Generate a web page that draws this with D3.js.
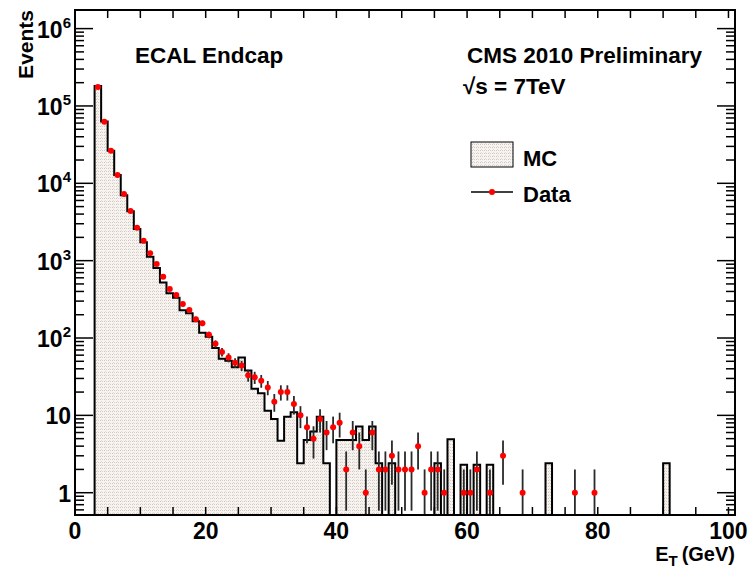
<!DOCTYPE html>
<html>
<head>
<meta charset="utf-8">
<script src="https://cdn.jsdelivr.net/npm/d3@7"></script>
<style>
  html, body { margin: 0; padding: 0; background: #fff; }
  svg { display: block; }
  text { font-family: "Liberation Sans", Arial, Helvetica, sans-serif; font-weight: bold; fill: #000; }
</style>
</head>
<body>
<svg id="chart" width="751" height="571"></svg>
<script>
// Transverse energy spectrum, ECAL endcap, 1 GeV bins starting at 3 GeV
const binStart = 3;
const dataCounts = [
  176000, 62700, 26400, 12800, 7280, 4390, 2670, 1810, 1250, 906,   // 3-12
  621, 430, 360, 275, 230, 175, 155, 110, 84, 66,                   // 13-22
  56, 48, 44, 33, 31, 28, 23, 15, 20, 20,                           // 23-32
  14, 10, 7, 5, 9, 6, 7, 8, 2, 6,                                   // 33-42
  4, 1, 6, 2, 2, 3, 2, 2, 2, 4,                                     // 43-52
  1, 2, 2, 1, 0, 0, 1, 1, 2, 0,                                     // 53-62
  1, 0, 3, 0, 0, 1, 0, 0, 0, 0,                                     // 63-72
  0, 0, 0, 1, 0, 0, 1, 0, 0, 0                                      // 73-82
];
const mcValues = [
  181000, 63000, 26400, 12800, 7000, 4350, 2570, 1730, 1120, 805,   // 3-12
  523, 379, 332, 228, 209, 165, 117, 104, 74, 54,                   // 13-22
  51, 42, 56, 38, 22, 19.3, 11.5, 9.0, 4.7, 9.6,                    // 23-32
  11, 2.4, 4.8, 6.2, 9.6, 2.4, 0, 4.8, 4.8, 4.8,                    // 33-42
  7.2, 4.8, 7.2, 2.4, 0, 2.4, 0, 0, 0, 0,                           // 43-52
  0, 0, 2.4, 0, 4.9, 0, 2.3, 0, 2.3, 0,                             // 53-62
  2.3, 0, 0, 0, 0, 0, 0, 0, 0, 2.4,                                 // 63-72
  0, 0, 0, 0, 0, 0, 0, 0, 0, 0,                                     // 73-82
  0, 0, 0, 0, 0, 0, 0, 2.4, 0, 0                                    // 83-92
];
const xTickLabels = ["0", "20", "40", "60", "80", "100"];
const yDecades = [0, 1, 2, 3, 4, 5, 6];

const svg = d3.select("#chart");
const frameL = 75, frameR = 735, frameT = 10, frameB = 515;

const x = d3.scaleLinear().domain([0, 101]).range([frameL, frameR]);
const y = d3.scaleLog().domain([0.515, 1.74e6]).range([frameB, frameT]);
const yc = v => (v > 0 ? Math.max(Math.min(y(v), frameB), frameT) : frameB);

// dotted fill used for the simulated histogram
const defs = svg.append("defs");
const pat = defs.append("pattern").attr("id", "dots")
  .attr("width", 4).attr("height", 3).attr("patternUnits", "userSpaceOnUse");
pat.append("rect").attr("width", 4).attr("height", 3).attr("fill", "#f6f3f0");
pat.append("rect").attr("x", 0).attr("y", 0).attr("width", 1).attr("height", 1).attr("fill", "#cfc6bd");
pat.append("rect").attr("x", 2).attr("y", 0).attr("width", 1).attr("height", 1).attr("fill", "#d8d0c8");
pat.append("rect").attr("x", 1).attr("y", 2).attr("width", 1).attr("height", 1).attr("fill", "#e2dbd4");
defs.append("clipPath").attr("id", "frameClip").append("rect")
  .attr("x", frameL).attr("y", frameT).attr("width", frameR - frameL).attr("height", frameB - frameT);

const plot = svg.append("g").attr("clip-path", "url(#frameClip)");

// MC histogram: filled area and step outline
const mcBins = mcValues.map((v, i) => ({ lo: binStart + i, hi: binStart + i + 1, v }));
let outline = `M${x(mcBins[0].lo)},${frameB}`;
mcBins.forEach(b => {
  const yy = yc(b.v);
  outline += `L${x(b.lo)},${yy}L${x(b.hi)},${yy}`;
});
outline += `L${x(mcBins[mcBins.length - 1].hi)},${frameB}`;
plot.append("path").attr("d", outline + "Z").attr("fill", "url(#dots)").attr("stroke", "none");
plot.append("path").attr("d", outline).attr("fill", "none")
  .attr("stroke", "#000").attr("stroke-width", 2).attr("stroke-linejoin", "miter");

// data points with Poisson error bars
const pts = dataCounts.map((n, i) => ({ c: binStart + i + 0.5, n })).filter(d => d.n > 0);
plot.selectAll("line.err").data(pts).enter().append("line")
  .attr("class", "err")
  .attr("x1", d => x(d.c)).attr("x2", d => x(d.c))
  .attr("y1", d => yc(d.n + Math.sqrt(d.n)))
  .attr("y2", d => yc(d.n - Math.sqrt(d.n)))
  .attr("stroke", "#2a2a2a").attr("stroke-width", 1.8);
plot.selectAll("circle.pt").data(pts).enter().append("circle")
  .attr("class", "pt")
  .attr("cx", d => x(d.c)).attr("cy", d => y(d.n)).attr("r", 3)
  .attr("fill", "#ff0000");

// frame
svg.append("rect").attr("x", frameL).attr("y", frameT)
  .attr("width", frameR - frameL).attr("height", frameB - frameT)
  .attr("fill", "none").attr("stroke", "#000").attr("stroke-width", 2);

// x ticks every 5 GeV, bottom and top
const ax = svg.append("g");
d3.range(0, 101, 5).forEach(t => {
  ax.append("line").attr("x1", x(t)).attr("x2", x(t)).attr("y1", frameB).attr("y2", frameB - 8)
    .attr("stroke", "#000").attr("stroke-width", 1.5);
  ax.append("line").attr("x1", x(t)).attr("x2", x(t)).attr("y1", frameT).attr("y2", frameT + 8)
    .attr("stroke", "#000").attr("stroke-width", 1.5);
});
xTickLabels.forEach(s => {
  ax.append("text").attr("x", x(+s)).attr("y", 539)
    .attr("text-anchor", "middle").attr("font-size", 23).text(s);
});

// y ticks: decades long, 2..9 short, on both sides
const ay = svg.append("g");
const [ymin, ymax] = y.domain();
for (let k = -1; k <= 6; k++) {
  for (let m = 1; m <= 9; m++) {
    const v = m * Math.pow(10, k);
    if (v < ymin || v > ymax) continue;
    const len = m === 1 ? 18 : 9;
    ay.append("line").attr("x1", frameL).attr("x2", frameL + len).attr("y1", y(v)).attr("y2", y(v))
      .attr("stroke", "#000").attr("stroke-width", 1.5);
    ay.append("line").attr("x1", frameR).attr("x2", frameR - len).attr("y1", y(v)).attr("y2", y(v))
      .attr("stroke", "#000").attr("stroke-width", 1.5);
  }
}
yDecades.forEach(k => {
  const t = ay.append("text").attr("x", 71).attr("y", y(Math.pow(10, k)) + 9)
    .attr("text-anchor", "end").attr("font-size", 23);
  if (k === 0) t.text("1");
  else if (k === 1) t.text("10");
  else {
    t.append("tspan").text("10");
    t.append("tspan").attr("dy", -10).attr("font-size", 15).text(k);
  }
});

// axis titles
const xt = svg.append("text").attr("x", 735).attr("y", 561).attr("text-anchor", "end").attr("font-size", 20);
xt.append("tspan").text("E");
xt.append("tspan").attr("dy", 5).attr("font-size", 15).text("T");
xt.append("tspan").attr("dy", -5).attr("dx", 4).text("(GeV)");
svg.append("text").attr("transform", "translate(33,10) rotate(-90)")
  .attr("text-anchor", "end").attr("font-size", 21).text("Events");

// annotations
svg.append("text").attr("x", 135).attr("y", 63).attr("font-size", 22.5).text("ECAL Endcap");
svg.append("text").attr("x", 467).attr("y", 63).attr("font-size", 22.5).text("CMS 2010 Preliminary");
svg.append("text").attr("x", 463).attr("y", 94).attr("font-size", 22.5).text("\u221As = 7TeV");

// legend
svg.append("rect").attr("x", 471).attr("y", 142).attr("width", 42).attr("height", 25)
  .attr("fill", "url(#dots)").attr("stroke", "#000").attr("stroke-width", 1);
svg.append("text").attr("x", 523).attr("y", 166).attr("font-size", 22).text("MC");
svg.append("line").attr("x1", 471).attr("x2", 513).attr("y1", 192).attr("y2", 192)
  .attr("stroke", "#000").attr("stroke-width", 1.5);
svg.append("circle").attr("cx", 492).attr("cy", 192).attr("r", 3).attr("fill", "#ff0000");
svg.append("text").attr("x", 523).attr("y", 202).attr("font-size", 22).text("Data");
</script>
</body>
</html>
